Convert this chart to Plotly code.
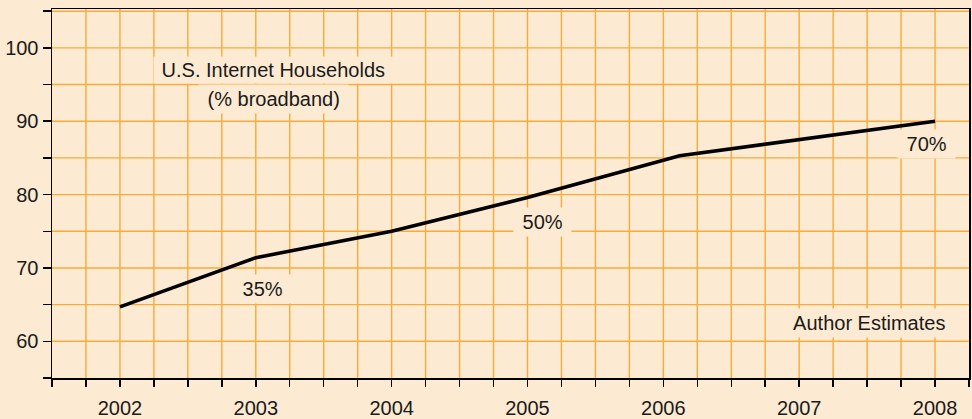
import plotly.graph_objects as go

# Data
years = [2002, 2003, 2004, 2005, 2006.12, 2008]
broadband_pct = [64.7, 71.4, 75.0, 79.6, 85.3, 90.0]

year_labels = ["2002", "2003", "2004", "2005", "2006", "2007", "2008"]
y_labels = ["60", "70", "80", "90", "100"]

label_texts = ["35%", "50%", "70%"]
label_x = [2003.05, 2005.11, 2007.935]
label_y = [67.2, 76.3, 86.9]

BG = "#FDEAD2"
GRID = "#F7AB3A"
TXT = "#1a1a1a"
FONT = "Liberation Sans, Arial, Helvetica, sans-serif"
NB = "\u00a0"

# tick grid: quarter-year ticks on x, every 5 on y, labels on whole years / tens
x_tickvals = [2001.5 + 0.25 * i for i in range(28)]
x_ticktext = [str(int(v)) if float(v).is_integer() and str(int(v)) in year_labels else "" for v in x_tickvals]
y_tickvals = [55 + 5 * i for i in range(11)]
y_ticktext = [str(v) if str(v) in y_labels else "" for v in y_tickvals]

fig = go.Figure()
fig.add_trace(go.Scatter(
    x=years, y=broadband_pct, mode="lines",
    line=dict(color="black", width=3.6),
    hoverinfo="skip", showlegend=False,
))

ann = []
for t, x, y in zip(label_texts, label_x, label_y):
    ann.append(dict(x=x, y=y, xref="x", yref="y", text=NB + t + NB, showarrow=False,
                    bgcolor=BG, borderpad=3, font=dict(size=20, color=TXT, family=FONT)))
ann.append(dict(x=2003.13, y=97.0, xref="x", yref="y", text=NB + "U.S. Internet Households" + NB,
                showarrow=False, bgcolor=BG, borderpad=2, font=dict(size=20, color=TXT, family=FONT)))
ann.append(dict(x=2003.13, y=93.0, xref="x", yref="y", text=NB + "(% broadband)" + NB,
                showarrow=False, bgcolor=BG, borderpad=3, font=dict(size=20, color=TXT, family=FONT)))
ann.append(dict(x=2007.52, y=62.45, xref="x", yref="y", text=NB + NB + "Author Estimates" + NB + NB,
                showarrow=False, bgcolor=BG, borderpad=3, font=dict(size=20, color=TXT, family=FONT)))

fig.update_layout(
    template="none",
    width=972, height=419,
    margin=dict(l=52, r=3, t=9, b=41, autoexpand=False),
    paper_bgcolor=BG, plot_bgcolor=BG,
    font=dict(family=FONT, size=20, color=TXT),
    annotations=ann,
    xaxis=dict(
        range=[2001.5, 2008.25], tickmode="array",
        tickvals=x_tickvals, ticktext=x_ticktext,
        showgrid=True, gridcolor=GRID, gridwidth=1.4,
        ticks="outside", ticklen=7, tickwidth=1.5, tickcolor="black",
        showline=True, linecolor="black", linewidth=1.5, mirror=True,
        zeroline=False, automargin=False,
        tickfont=dict(size=20, color=TXT, family=FONT),
        ticklabelstandoff=4,
    ),
    yaxis=dict(
        range=[55, 105.3], tickmode="array",
        tickvals=y_tickvals, ticktext=y_ticktext,
        showgrid=True, gridcolor=GRID, gridwidth=1.4,
        ticks="outside", ticklen=8, tickwidth=1.5, tickcolor="black",
        showline=True, linecolor="black", linewidth=1.5, mirror=True,
        zeroline=False, automargin=False,
        tickfont=dict(size=20, color=TXT, family=FONT),
    ),
)

post = (
    "document.body.style.margin='0';"
    "document.body.style.overflow='hidden';"
    "document.body.style.background='%s';"
    "var st=document.createElement('style');"
    "st.textContent='.xgrid,.ygrid{shape-rendering:geometricPrecision !important;}';"
    "document.head.appendChild(st);"
) % BG

fig.write_html(
    "out.html",
    config={"displayModeBar": False, "staticPlot": True},
    post_script=post,
)
